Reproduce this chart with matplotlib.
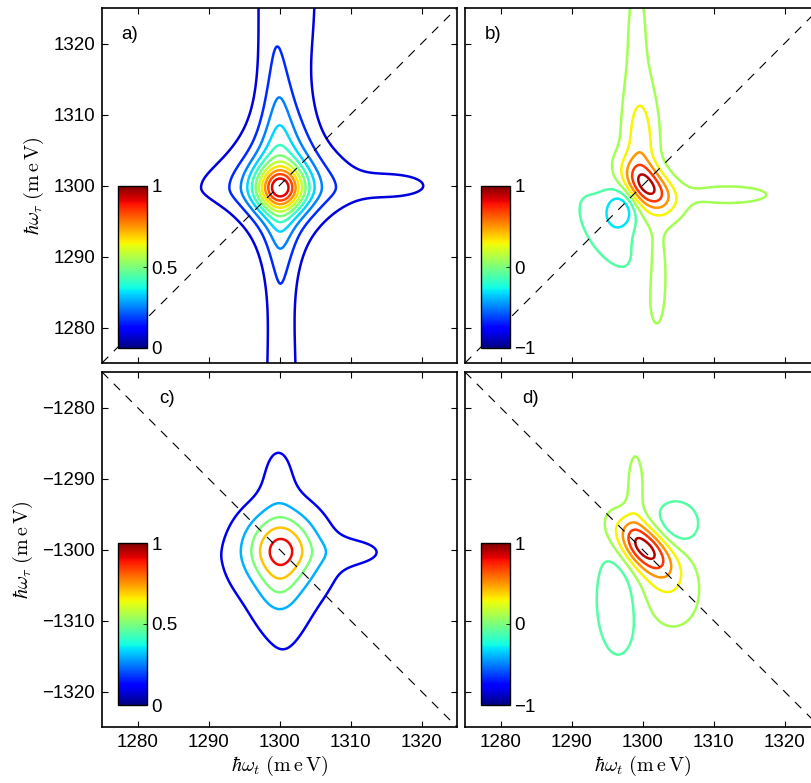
import numpy as np
import matplotlib.pyplot as plt
from matplotlib.cm import ScalarMappable
from matplotlib.colors import Normalize

plt.rcParams['font.family'] = ['Liberation Sans', 'DejaVu Sans']
plt.rcParams['mathtext.fontset'] = 'cm'

# axis ranges (meV)
e_range = [1275, 1325]
tick_vals = [1280, 1290, 1300, 1310, 1320]

# contour levels per panel
levels_a = [1/12, 2/12, 3/12, 4/12, 5/12, 6/12, 7/12, 8/12, 9/12, 10/12, 11/12]
levels_c = [0.1, 0.3, 0.5, 0.7, 0.9]
levels_b = [-0.3, -0.1, 0.1, 0.3, 0.5, 0.7, 0.9]
levels_d = [-0.3, -0.1, 0.1, 0.3, 0.5, 0.7, 0.9]

# peak components
# cross peaks: x0, y0, amp, w_left, w_right, w_down, w_up, cross
a_cross = [[1300.1, 1299.7, 0.5, 5.0, 5.4, 8.0, 12.0, 7.0]]
# gaussian blobs: x0, y0, amp, s_x, s_y, angle(deg)
a_gauss = [[1300.1, 1299.7, 0.50, 2.3, 2.2, 0],
           [1298.3, 1330.0, 0.085, 1.5, 12.0, 0],
           [1304.1, 1330.0, 0.085, 1.5, 12.0, 0],
           [1300.3, 1268.0, 0.12, 1.9, 12.0, 0],
           [1317.0, 1300.0, 0.07, 4.0, 1.5, 0]]

b_cross = []
b_gauss = [[1300.8, 1299.8, 1.00, 3.0, 1.8, -45],
           [1299.8, 1306.0, 0.45, 1.6, 5.0, 0],
           [1297.1, 1296.8, -0.55, 1.6, 2.0, 0],
           [1295.0, 1293.5, -0.22, 5.5, 2.5, -57],
           [1299.2, 1320.0, 0.16, 1.7, 12.0, 0],
           [1302.0, 1287.0, 0.20, 1.5, 7.0, 0],
           [1312.0, 1298.7, 0.17, 7.0, 1.5, 0]]

c_cross = [[1300.5, -1301.5, 0.26, 4.8, 4.8, 9.8, 4.5, 1.0]]
c_gauss = [[1300.1, -1299.6, 0.74, 3.5, 3.5, 0],
           [1299.8, -1305.5, 0.16, 2.0, 3.0, 0],
           [1299.8, -1290.0, 0.12, 1.8, 4.0, 0],
           [1310.0, -1300.3, 0.11, 4.0, 1.5, 0]]

d_cross = []
d_gauss = [[1300.1, -1299.6, 1.00, 3.4, 1.9, -45],
           [1304.6, -1296.5, -0.28, 2.4, 2.4, 0],
           [1296.6, -1306.8, -0.26, 2.3, 6.0, 0],
           [1303.2, -1305.0, 0.26, 3.2, 4.5, 20],
           [1299.0, -1291.5, 0.18, 1.0, 4.5, 0]]


def cross_peak(X, Y, p):
    x0, y0, amp, wl, wr, wd, wu, c = p
    u = (X - x0) / np.where(X < x0, wl, wr)
    v = (Y - y0) / np.where(Y < y0, wd, wu)
    return amp / (1 + u**2 + v**2 + c * u**2 * v**2)


def gauss_peak(X, Y, p):
    x0, y0, amp, sx, sy, ang = p
    t = np.deg2rad(ang)
    dx, dy = X - x0, Y - y0
    u = dx * np.cos(t) + dy * np.sin(t)
    v = -dx * np.sin(t) + dy * np.cos(t)
    return amp * np.exp(-0.5 * ((u / sx)**2 + (v / sy)**2))


def build_map(X, Y, crosses, gausses):
    Z = np.zeros_like(X)
    for p in crosses:
        Z += cross_peak(X, Y, p)
    for p in gausses:
        Z += gauss_peak(X, Y, p)
    return Z / Z.max()


W, H = 812, 783
fig = plt.figure(figsize=(W / 100, H / 100), dpi=100)


def px_axes(left, top, w, h):
    return fig.add_axes([left / W, 1 - (top + h) / H, w / W, h / H])


xg = np.linspace(e_range[0], e_range[1], 501)
panels = [
    # left, top, crosses, gausses, levels, vmin, sign, label, cb ticks
    (102, 8, a_cross, a_gauss, levels_a, 0, 1, 'a)', ['0', '0.5', '1']),
    (465, 8, b_cross, b_gauss, levels_b, -1, 1, 'b)', ['\u22121', '0', '1']),
    (102, 372, c_cross, c_gauss, levels_c, 0, -1, 'c)', ['0', '0.5', '1']),
    (465, 372, d_cross, d_gauss, levels_d, -1, -1, 'd)', ['\u22121', '0', '1']),
]

fs = 13.5
for left, top, crs, gss, lev, vmin, sgn, lab, cbl in panels:
    ax = px_axes(left, top, 355, 355)
    xs = xg
    ys = xg if sgn > 0 else -xg[::-1]
    X, Y = np.meshgrid(xs, ys)
    Z = build_map(X, Y, crs, gss)
    ax.contour(X, Y, Z, levels=lev, cmap='jet', vmin=vmin, vmax=1,
               linewidths=1.8)
    if sgn > 0:
        ax.plot(e_range, e_range, color='k', lw=0.8, ls=(0, (8, 7)))
        ax.set_ylim(e_range)
        ax.set_yticks(tick_vals)
    else:
        ax.plot(e_range, [-e_range[0], -e_range[1]], color='k', lw=0.8,
                ls=(0, (8, 7)))
        ax.set_ylim(-e_range[1], -e_range[0])
        ax.set_yticks([-t for t in tick_vals])
        ax.set_yticklabels(['\u2212%d' % t for t in tick_vals])
    ax.set_xlim(e_range)
    ax.set_xticks(tick_vals)
    ax.tick_params(direction='in', length=4, width=0.8, top=True, right=True,
                   labelsize=fs, pad=5)
    for s in ax.spines.values():
        s.set_linewidth(1.2)
    if left > 200:
        ax.set_yticklabels([])
    else:
        ax.set_ylabel(r'$\hbar\omega_\tau\ (\mathrm{m\,e\,V})$', fontsize=14.5,
                      labelpad=5)
    if top < 200:
        ax.set_xticklabels([])
    else:
        ax.set_xlabel(r'$\hbar\omega_t\ (\mathrm{m\,e\,V})$', fontsize=14.5,
                      labelpad=2)
    lx = 0.055 if sgn > 0 else 0.16
    ax.text(lx, 0.925, lab, transform=ax.transAxes, fontsize=fs,
            va='center', ha='left')

    # inset colour bar
    cb_top = top + 178 if sgn > 0 else top + 171
    cax = px_axes(left + 16, cb_top, 29, 162)
    cb = fig.colorbar(ScalarMappable(Normalize(vmin, 1), cmap='jet'),
                      cax=cax)
    cb.set_ticks([vmin, (vmin + 1) / 2, 1])
    cb.set_ticklabels(cbl)
    cb.ax.tick_params(direction='in', length=3, width=0.6, labelsize=fs,
                      pad=3)
    cb.outline.set_linewidth(1.0)

fig.savefig('out.png', dpi=100)
